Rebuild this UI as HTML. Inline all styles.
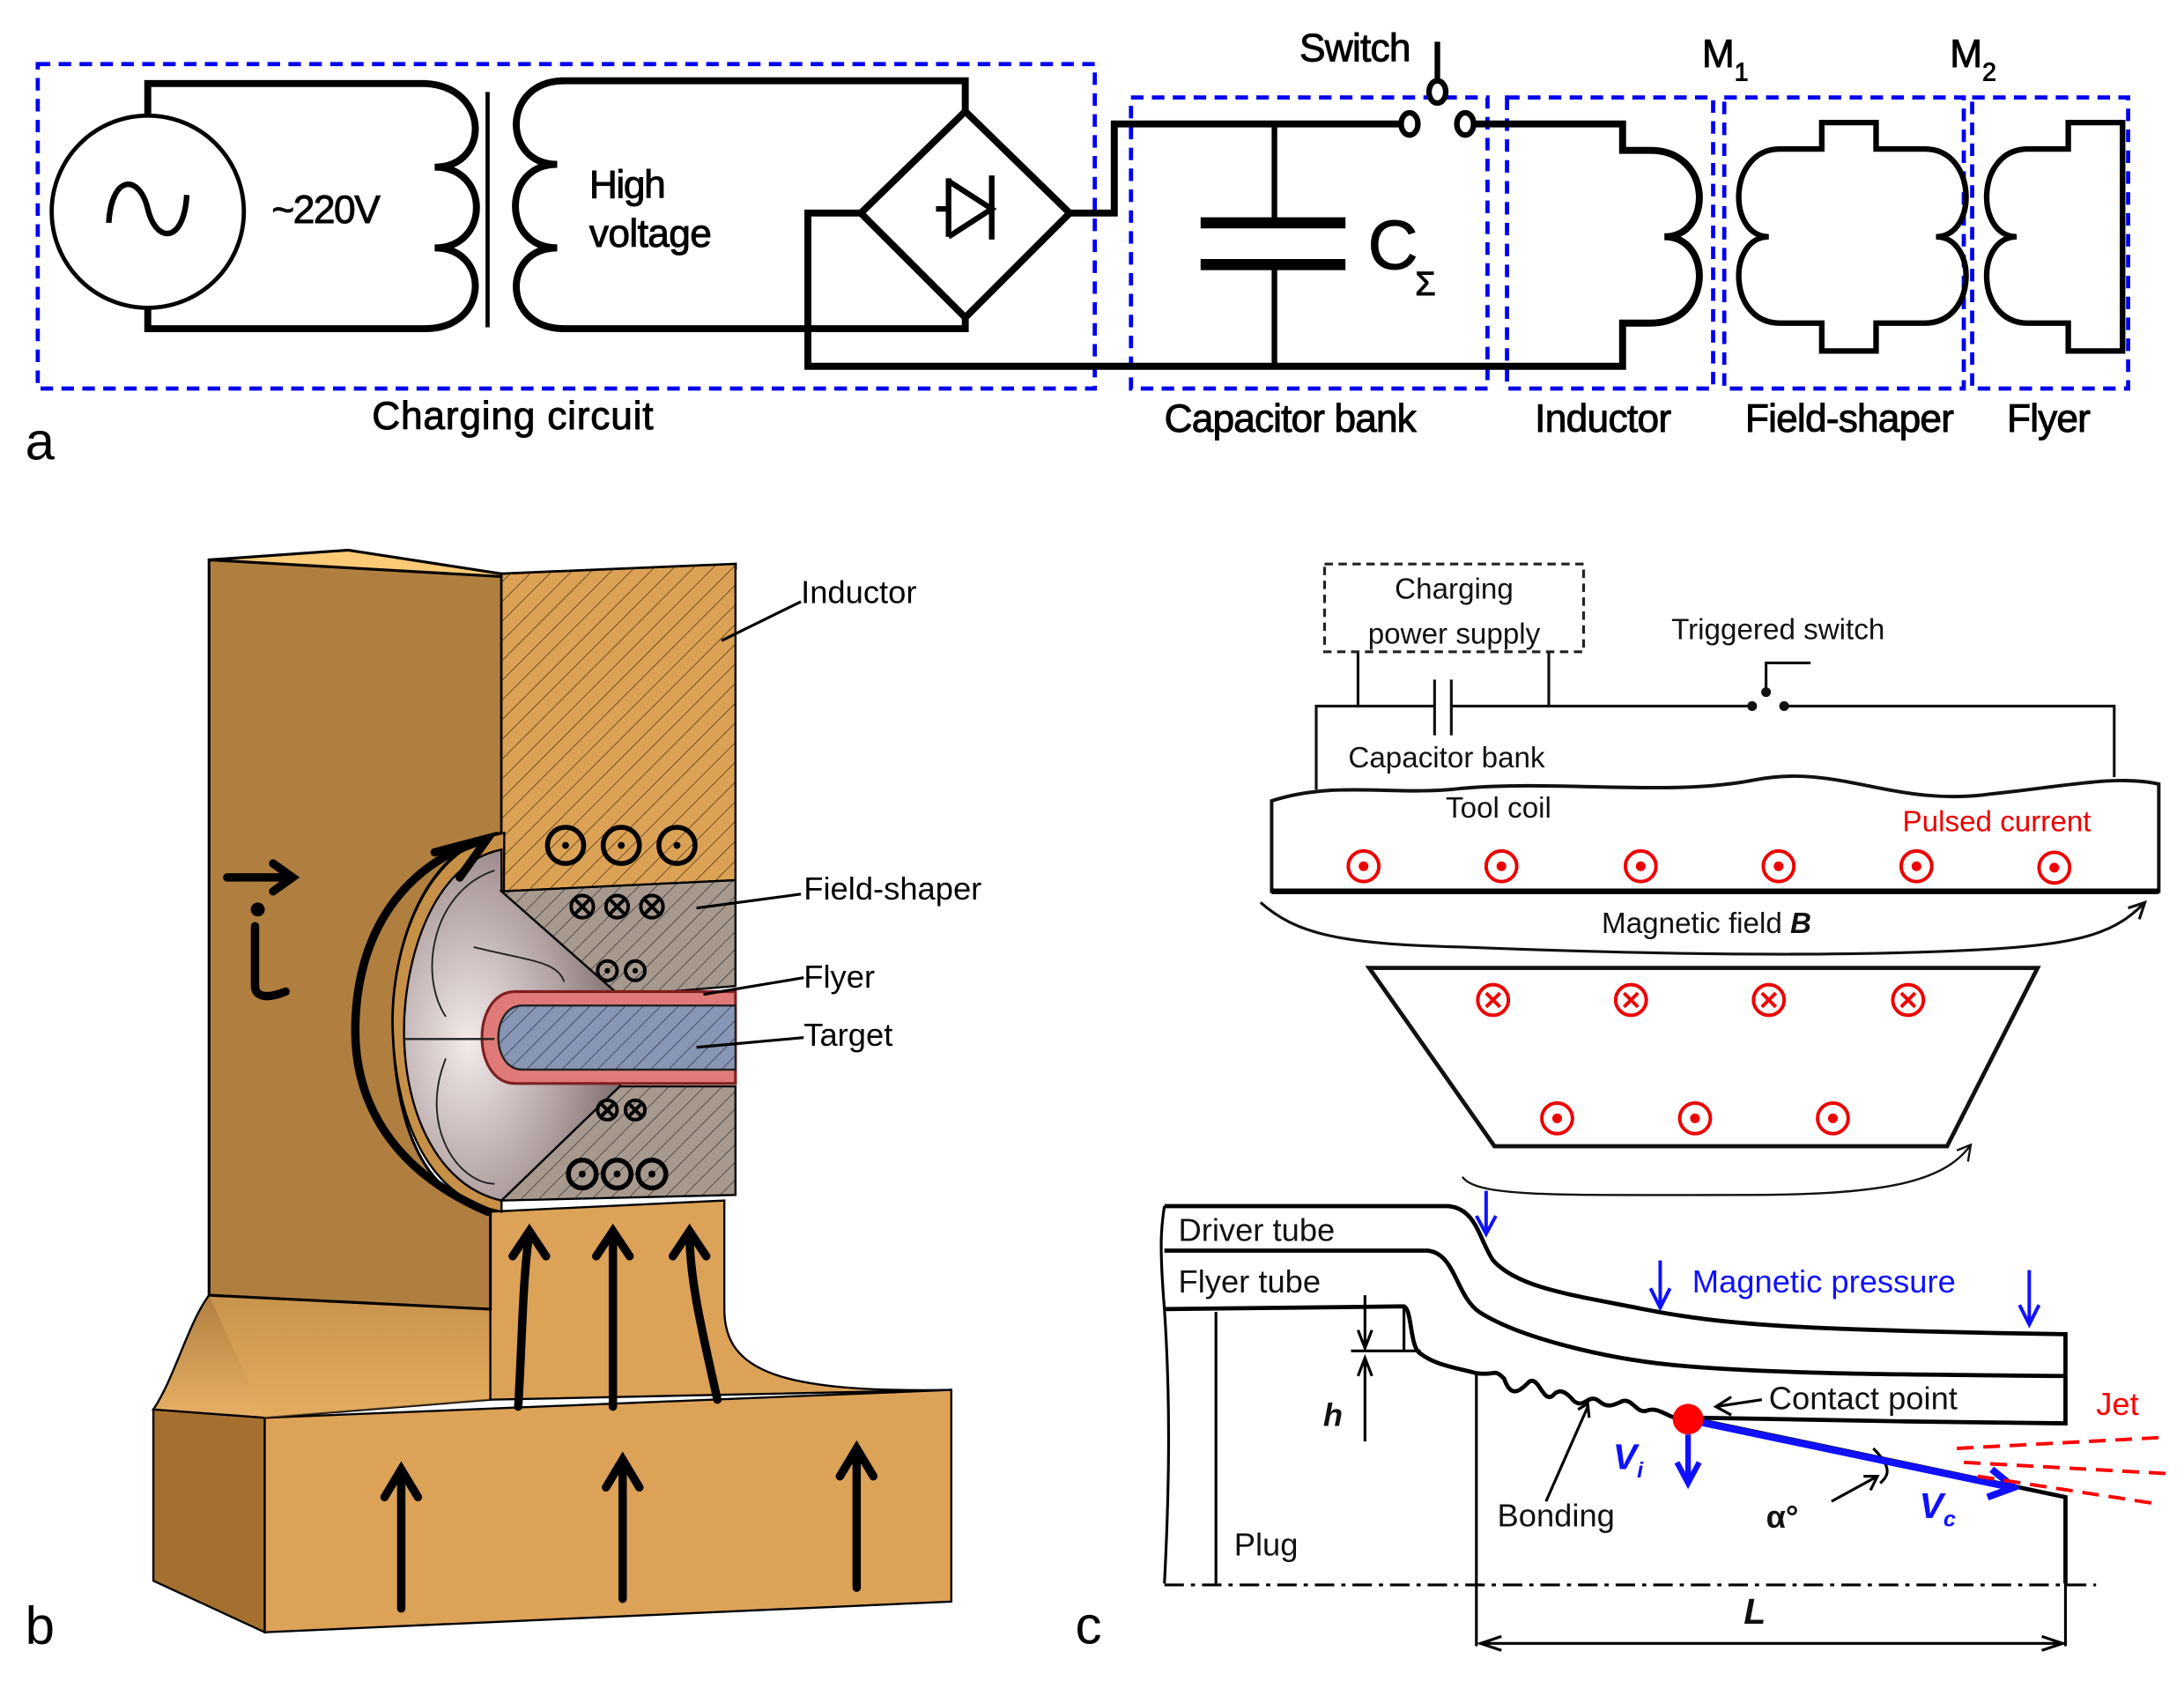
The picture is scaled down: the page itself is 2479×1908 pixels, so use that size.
<!DOCTYPE html>
<html><head><meta charset="utf-8"><style>
html,body{margin:0;padding:0;background:#fff;}
svg{display:block}
text{font-family:"Liberation Sans",sans-serif;}
.n{font-family:"Liberation Sans",sans-serif;font-stretch:condensed;}
</style></head><body>
<svg width="2479" height="1908" viewBox="0 0 1568 1207" xmlns="http://www.w3.org/2000/svg">
<defs>
<pattern id="h1" width="10" height="10" patternUnits="userSpaceOnUse" patternTransform="rotate(45)"><rect width="10" height="10" fill="#dba256"/><line x1="0" y1="0" x2="0" y2="10" stroke="#5a3a10" stroke-width="1"/></pattern>
<pattern id="h2" width="9" height="9" patternUnits="userSpaceOnUse" patternTransform="rotate(45)"><rect width="9" height="9" fill="#a8998f"/><line x1="0" y1="0" x2="0" y2="9" stroke="#333" stroke-width="0.9"/></pattern>
<pattern id="h3" width="9" height="9" patternUnits="userSpaceOnUse" patternTransform="rotate(45)"><rect width="9" height="9" fill="#8796b4"/><line x1="0" y1="0" x2="0" y2="9" stroke="#334" stroke-width="0.9"/></pattern>
<radialGradient id="hemi" cx="0.3" cy="0.55" r="0.9"><stop offset="0" stop-color="#f3eaea"/><stop offset="0.5" stop-color="#b0a0a0"/><stop offset="1" stop-color="#5a4a4a"/></radialGradient>
<linearGradient id="fil" x1="0" y1="0" x2="0" y2="1"><stop offset="0" stop-color="#b07f40"/><stop offset="1" stop-color="#e8b065"/></linearGradient>
</defs>

<!-- ========== Panel a ========== -->
<g fill="none" stroke="#0000ee" stroke-width="3" stroke-dasharray="9,6">
<rect x="27" y="46" width="759" height="233"/>
<rect x="812" y="70" width="256" height="209"/>
<rect x="1082" y="70" width="148" height="209"/>
<rect x="1238" y="70" width="172" height="209"/>
<rect x="1416" y="70" width="112" height="209"/>
</g>
<g fill="none" stroke="#000" stroke-width="5">
<circle cx="106" cy="152" r="69" stroke-width="3"/>
<path d="M78,160 C80,125 100,125 106,150 C112,175 132,175 134,140" stroke-width="4"/>
<path d="M106,83 V60 H305 C352,62 352,120 312,120 C352,120 352,178 312,178 C352,178 352,236 305,236 H106 V222"/>
<path d="M693,80 V58 H405 C360,58 360,118 400,118 C360,118 360,178 400,178 C360,178 360,236 405,236 H693 V228"/>
<path d="M693,80 L768,153 L693,228 L618,153 Z"/>
<path d="M618,153 H580 V263 H1165 V232 H1185 C1230,232 1230,170 1195,170 C1230,170 1230,108 1185,108 H1165 V89 H1058"/>
<path d="M768,153 H800 V89 H1007"/>
<path d="M915,89 V160 M915,190 V263" stroke-width="4"/>
<path d="M1308,107 V88 H1347 V107 H1382 C1420,107 1420,170 1390,170 C1420,170 1420,232 1382,232 H1347 V252 H1308 V232 H1278 C1240,232 1240,170 1270,170 C1240,170 1240,107 1278,107 Z" stroke-width="4"/>
<path d="M1485,107 V88 H1524 V252 H1485 V232 H1456 C1418,232 1418,170 1448,170 C1418,170 1418,107 1456,107 Z" stroke-width="4"/>
</g>
<line x1="350" y1="66" x2="350" y2="235" stroke="#000" stroke-width="3"/>
<line x1="862" y1="160" x2="966" y2="160" stroke="#000" stroke-width="8"/>
<line x1="862" y1="190" x2="966" y2="190" stroke="#000" stroke-width="8"/>
<g stroke="#000" stroke-width="4" fill="none"><path d="M681,128 V170 M681,130 L712,150 L681,170 M712,126 V172 M672,150 H681"/></g>
<g stroke="#000" stroke-width="4" fill="#fff"><line x1="1032" y1="30" x2="1032" y2="60"/><ellipse cx="1032" cy="66" rx="6" ry="8"/><ellipse cx="1012" cy="89" rx="6" ry="8"/><ellipse cx="1052" cy="89" rx="6" ry="8"/></g>
<g class="n" font-size="28" fill="#000" stroke="#000" stroke-width="0.6">
<text x="195" y="160" textLength="78">~220V</text>
<text x="423" y="142" textLength="55">High</text>
<text x="423" y="177" textLength="88">voltage</text>
<text x="933" y="44" textLength="80">Switch</text>
<text x="1222" y="48">M<tspan font-size="18" dy="10">1</tspan></text>
<text x="1400" y="48">M<tspan font-size="18" dy="10">2</tspan></text>
<text x="982" y="193" font-size="50" textLength="36">C</text>
<text x="1016" y="212" font-size="24">Σ</text>
<text x="267" y="308" textLength="202">Charging circuit</text>
<text x="836" y="310" textLength="181">Capacitor bank</text>
<text x="1102" y="310" textLength="98">Inductor</text>
<text x="1253" y="310" textLength="150">Field-shaper</text>
<text x="1441" y="310" textLength="60">Flyer</text>
</g>
<text x="18" y="330" font-size="38" fill="#000">a</text>

<!-- ========== Panel b ========== -->
<polygon points="110,1012 190,1018 190,1172 110,1135" fill="#a5702f" stroke="#000" stroke-width="1.5"/>
<polygon points="190,1018 683,998 683,1150 190,1172" fill="#dca258" stroke="#000" stroke-width="1.5"/>
<path d="M150,930 L352,940 C352,990 360,1000 352,1005 L190,1018 L110,1012 C125,990 135,950 150,930 Z" fill="url(#fil)" stroke="#000" stroke-width="1.5"/>
<polygon points="190,1018 352,1005 352,940 150,930" fill="#e0a85a" opacity="0.5"/>
<path d="M352,870 L520,862 L520,940 C520,985 560,1000 683,998 L352,1005 Z" fill="#dca258" stroke="#000" stroke-width="1.5"/>
<path d="M150,402 L360,412 L360,598 C300,610 280,690 282,740 C284,800 300,860 352,868 L352,940 L150,930 Z" fill="#b07f40" stroke="#000" stroke-width="2"/>
<polygon points="150,402 250,395 360,412 528,405 528,408 360,414" fill="#fdcb77" stroke="#000" stroke-width="2"/>
<polygon points="360,412 528,405 528,632 360,640" fill="url(#h1)" stroke="#000" stroke-width="1.5"/>
<path d="M362,598 C300,610 280,690 282,740 C284,800 305,860 360,870 Z" fill="#c69046" stroke="#000" stroke-width="1.5"/>
<path d="M360,610 L360,640 L445,715 L445,780 L360,862 C315,852 290,800 290,740 C290,690 310,620 360,610 Z" fill="url(#hemi)" stroke="#000" stroke-width="1.5"/>
<path d="M355,625 C310,640 300,700 320,730 M340,680 C380,690 400,690 405,705" fill="none" stroke="#222" stroke-width="1.2"/>
<path d="M320,760 C300,810 330,850 355,850" fill="none" stroke="#222" stroke-width="1.2"/>
<polygon points="360,640 528,632 528,708 445,715" fill="url(#h2)" stroke="#000" stroke-width="1.5"/>
<polygon points="445,780 528,780 528,858 360,862" fill="url(#h2)" stroke="#000" stroke-width="1.5"/>
<path d="M528,712 H370 C338,712 338,778 370,778 H528 Z" fill="#e07a78" stroke="#802020" stroke-width="2"/>
<path d="M528,722 H375 C352,722 352,768 375,768 H528 Z" fill="url(#h3)" stroke="#222" stroke-width="1.5"/>
<line x1="290" y1="746" x2="355" y2="746" stroke="#222" stroke-width="1.5"/>
<g fill="none" stroke="#000" stroke-width="3.5">
<circle cx="406" cy="607" r="13"/><circle cx="446" cy="607" r="13"/><circle cx="486" cy="607" r="13"/>
<circle cx="418" cy="843" r="10"/><circle cx="443" cy="843" r="10"/><circle cx="468" cy="843" r="10"/>
</g>
<g fill="#000"><circle cx="406" cy="607" r="2.5"/><circle cx="446" cy="607" r="2.5"/><circle cx="486" cy="607" r="2.5"/>
<circle cx="418" cy="843" r="2.5"/><circle cx="443" cy="843" r="2.5"/><circle cx="468" cy="843" r="2.5"/>
<circle cx="436" cy="697" r="2"/><circle cx="456" cy="697" r="2"/></g>
<g fill="none" stroke="#000" stroke-width="2.5">
<circle cx="418" cy="651" r="8"/><circle cx="443" cy="651" r="8"/><circle cx="468" cy="651" r="8"/>
<path d="M413,646l10,10m0,-10l-10,10M438,646l10,10m0,-10l-10,10M463,646l10,10m0,-10l-10,10"/>
<circle cx="436" cy="697" r="7"/><circle cx="456" cy="697" r="7"/>
<circle cx="436" cy="797" r="7"/><circle cx="456" cy="797" r="7"/>
<path d="M432,793l8,8m0,-8l-8,8M452,793l8,8m0,-8l-8,8"/>
</g>
<g fill="none" stroke="#000" stroke-width="6" stroke-linecap="round">
<path d="M350,870 C280,840 255,790 255,740 C255,670 290,620 348,603"/>
<path d="M312,612 L350,602 L330,630"/>
<path d="M163,630 H208 M196,620 L210,630 L196,640"/>
<path d="M183,665 V708 C183,715 190,718 205,712"/>
<path d="M372,1010 C375,960 375,920 380,885 M368,902 L380,884 L392,902"/>
<path d="M440,1010 V885 M428,902 L440,884 L452,902"/>
<path d="M515,1005 C505,960 495,920 495,885 M483,902 L495,884 L507,902"/>
<path d="M288,1155 V1055 M276,1075 L288,1055 L300,1075"/>
<path d="M447,1148 V1048 M435,1068 L447,1048 L459,1068"/>
<path d="M615,1140 V1040 M603,1060 L615,1040 L627,1060"/>
</g>
<circle cx="185" cy="653" r="5" fill="#000"/>
<g stroke="#000" stroke-width="2"><line x1="575" y1="432" x2="518" y2="460"/><line x1="575" y1="642" x2="500" y2="652"/><line x1="577" y1="702" x2="505" y2="714"/><line x1="577" y1="745" x2="500" y2="752"/></g>
<g font-family="DejaVu Sans,sans-serif" font-size="23" fill="#000">
<text x="575" y="433">Inductor</text><text x="577" y="646">Field-shaper</text><text x="577" y="709">Flyer</text><text x="577" y="751">Target</text></g>
<text x="18" y="1180" font-size="38" fill="#000">b</text>

<!-- ========== Panel c ========== -->
<rect x="951" y="405" width="186" height="63" fill="none" stroke="#222" stroke-width="2" stroke-dasharray="6,4"/>
<g font-family="DejaVu Sans,sans-serif" font-size="21" fill="#111" text-anchor="middle">
<text x="1044" y="430">Charging</text><text x="1044" y="462">power supply</text></g>
<g stroke="#111" stroke-width="2" fill="none">
<path d="M975,468 V507 M1112,468 V507 M945,567 V507 H1030 M1042,507 H1258 M1281,507 H1518 V558"/>
<path d="M1030,488 V528 M1042,488 V528"/>
<path d="M1268,497 V476 H1300"/>
<path d="M913,575 C960,560 1000,572 1050,566 C1120,560 1200,572 1260,560 C1320,548 1360,580 1430,570 C1480,565 1520,556 1550,563 V640 H913 Z" stroke-width="2.5"/>
<path d="M905,648 C930,670 960,678 1050,680 C1150,684 1300,688 1420,682 C1500,678 1520,668 1540,648" stroke-width="2"/>
<path d="M1528,652 L1540,648 L1536,660"/>
<path d="M983,695 H1463 L1398,823 H1073 Z" stroke-width="3"/>
<path d="M1050,845 C1060,860 1120,858 1250,858 C1350,858 1395,850 1415,822 M1405,826 L1415,822 L1413,834" stroke-width="1.5"/>
</g>
<line x1="913" y1="640" x2="1550" y2="640" stroke="#000" stroke-width="4"/>
<g fill="#111"><circle cx="1258" cy="507" r="3.5"/><circle cx="1281" cy="507" r="3.5"/><circle cx="1268" cy="497" r="3.5"/></g>
<g font-family="DejaVu Sans,sans-serif" font-size="21" fill="#111">
<text x="1200" y="459">Triggered switch</text><text x="968" y="551">Capacitor bank</text><text x="1038" y="587">Tool coil</text>
<text x="1366" y="597" fill="#e00">Pulsed current</text>
<text x="1150" y="670">Magnetic field <tspan font-weight="bold" font-style="italic">B</tspan></text></g>
<g fill="none" stroke="#e00" stroke-width="2.5">
<circle cx="979" cy="622" r="11"/><circle cx="1078" cy="622" r="11"/><circle cx="1178" cy="622" r="11"/><circle cx="1277" cy="622" r="11"/><circle cx="1376" cy="622" r="11"/><circle cx="1475" cy="623" r="11"/>
<circle cx="1072" cy="718" r="11"/><circle cx="1171" cy="718" r="11"/><circle cx="1270" cy="718" r="11"/><circle cx="1370" cy="718" r="11"/>
<path d="M1067,713l10,10m0,-10l-10,10M1166,713l10,10m0,-10l-10,10M1265,713l10,10m0,-10l-10,10M1365,713l10,10m0,-10l-10,10"/>
<circle cx="1118" cy="803" r="11"/><circle cx="1217" cy="803" r="11"/><circle cx="1316" cy="803" r="11"/>
</g>
<g fill="#e00"><circle cx="979" cy="622" r="3.5"/><circle cx="1078" cy="622" r="3.5"/><circle cx="1178" cy="622" r="3.5"/><circle cx="1277" cy="622" r="3.5"/><circle cx="1376" cy="622" r="3.5"/><circle cx="1475" cy="623" r="3.5"/><circle cx="1118" cy="803" r="3.5"/><circle cx="1217" cy="803" r="3.5"/><circle cx="1316" cy="803" r="3.5"/></g>

<g fill="none" stroke="#000" stroke-width="3">
<path d="M836,866 H1040 C1060,868 1062,890 1072,905 C1090,925 1130,930 1180,940 C1240,952 1300,955 1483,958 V988"/>
<path d="M836,898 H1025 C1045,900 1045,930 1062,942 C1090,960 1150,975 1200,980 C1260,986 1350,987 1483,988"/>
<path d="M1483,988 V1022 C1400,1021 1300,1020 1222,1018"/>
<path d="M836,940 L1008,938 C1014,940 1012,968 1020,972 C1030,980 1045,982 1060,986 C1075,988 1072,982 1080,990 C1085,1005 1092,998 1098,992 C1105,988 1108,1008 1115,1002 C1120,996 1125,1000 1130,1006 C1138,1012 1140,1000 1148,1006 C1155,1012 1160,1008 1165,1006 C1172,1004 1175,1015 1182,1013 C1190,1010 1195,1016 1205,1019"/>
<path d="M1222,1020 L1450,1068 L1483,1075 V1137"/>
</g>
<g fill="none" stroke="#000" stroke-width="2">
<path d="M836,866 C834,880 832,890 836,940 C840,1000 840,1060 836,1137"/>
<path d="M873,942 V1137 M1060,986 V1182 M1483,1137 V1182"/>
<path d="M1008,938 V970 H970 M1008,970 H1020"/>
<path d="M980,930 V965 M975,955 L980,968 L985,955 M980,975 V1035 M975,988 L980,975 L985,988"/>
<path d="M1063,1180 H1481 M1078,1175 L1063,1180 L1078,1185 M1466,1175 L1481,1180 L1466,1185"/>
<path d="M1140,1010 L1110,1078 M1133,1012 L1140,1008 L1141,1018"/>
<path d="M1265,1005 L1232,1010 M1243,1003 L1232,1010 L1243,1016"/>
<path d="M1345,1040 C1360,1055 1355,1060 1350,1065"/>
<path d="M1348,1060 L1315,1078 M1338,1060 L1348,1060 L1343,1070"/>
</g>
<line x1="836" y1="1138" x2="1505" y2="1138" stroke="#000" stroke-width="2" stroke-dasharray="14,5,3,5"/>
<g stroke="#1010ff" fill="none" stroke-width="2.5">
<path d="M1067,855 V885 M1060,873 L1067,886 L1074,873"/>
<path d="M1192,905 V938 M1185,925 L1192,939 L1199,925"/>
<path d="M1457,912 V950 M1450,937 L1457,951 L1464,937"/>
<path d="M1212,1030 V1063 M1204,1050 L1212,1065 L1220,1050" stroke-width="4"/>
<path d="M1215,1020 L1444,1068 M1430,1055 L1446,1068 L1427,1075" stroke-width="5"/>
</g>
<circle cx="1212" cy="1019" r="11" fill="#f00"/>
<g stroke="#f00" stroke-width="2.5" stroke-dasharray="12,7"><line x1="1405" y1="1040" x2="1555" y2="1032"/><line x1="1410" y1="1050" x2="1555" y2="1058"/><line x1="1420" y1="1060" x2="1550" y2="1080"/></g>
<g font-family="DejaVu Sans,sans-serif" font-size="23" fill="#111">
<text x="846" y="891">Driver tube</text><text x="846" y="928">Flyer tube</text>
<text x="1215" y="928" fill="#1010ff">Magnetic pressure</text>
<text x="1270" y="1012">Contact point</text>
<text x="1505" y="1016" fill="#f00">Jet</text>
<text x="1075" y="1096">Bonding</text>
<text x="886" y="1117">Plug</text>
<text x="950" y="1024" font-style="italic" font-weight="bold">h</text>
<text x="1268" y="1097" font-weight="bold">α°</text>
<text x="1252" y="1166" font-style="italic" font-weight="bold" font-size="26">L</text>
<text x="1158" y="1055" fill="#1010ff" font-style="italic" font-weight="bold" font-size="26">V<tspan font-size="16" dy="6">i</tspan></text>
<text x="1378" y="1090" fill="#1010ff" font-style="italic" font-weight="bold" font-size="26">V<tspan font-size="16" dy="6">c</tspan></text>
</g>
<text x="772" y="1180" font-size="38" fill="#000">c</text>
</svg>
</body></html>
